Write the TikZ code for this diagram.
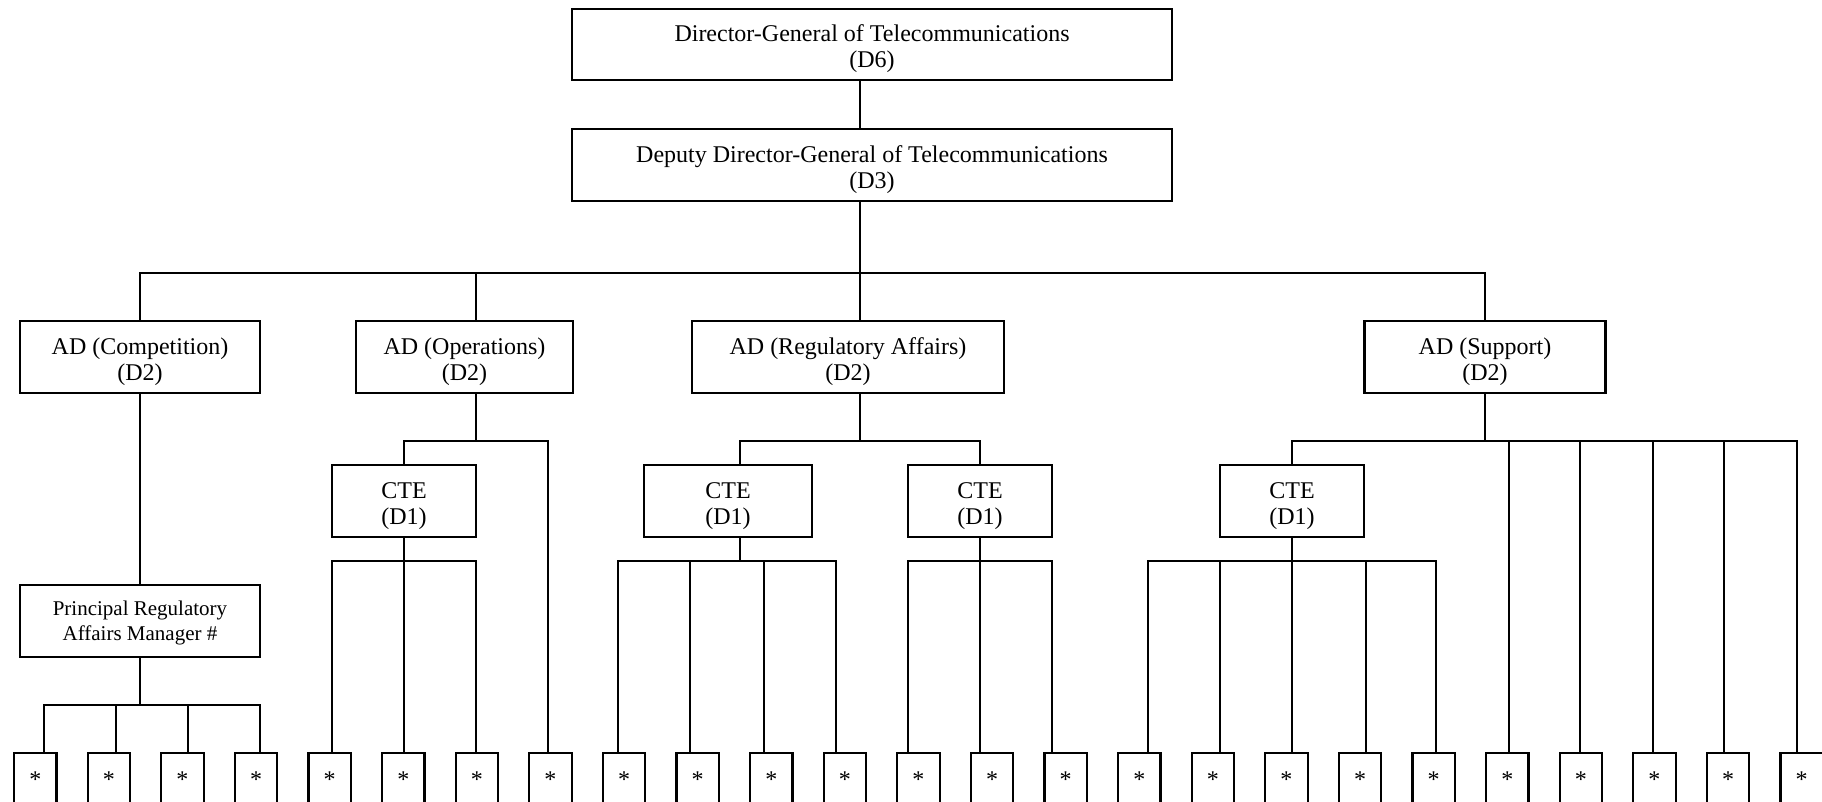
\documentclass[tikz,border=0pt]{standalone}
\usepackage{fontspec}
\setmainfont{Liberation Serif}
\newcommand\myrise{\rule{0pt}{12.9pt}}
\newcommand\myrisep{\rule{0pt}{9.2pt}}
\begin{document}
\begin{tikzpicture}[x=0.5pt,y=-0.5pt,
  box/.style={draw, line width=1.1pt, inner sep=0pt, align=center, minimum height=36pt, font=\fontsize{12}{13}\selectfont},
  conn/.style={line width=0.8pt, line cap=rect},
  starbox/.style={draw, line width=1.1pt, inner sep=0pt, minimum width=21.25pt, text height=17pt, text depth=12pt, font=\fontsize{12}{13.5}\selectfont, anchor=base}]
\useasboundingbox (0,0) rectangle (1822,802);
\clip (0,0) rectangle (1822,802);

\node[box, minimum width=300pt, minimum height=35.5pt] (dg) at (872,44.5) {\myrise Director-General of Telecommunications\\(D6)};
\node[box, minimum width=300pt] (ddg) at (872,165) {\myrise Deputy Director-General of Telecommunications\\(D3)};
\node[box, minimum width=120pt] (adc) at (140,357) {\myrise AD (Competition)\\(D2)};
\node[box, minimum width=108.5pt] (ado) at (464.5,357) {\myrise AD (Operations)\\(D2)};
\node[box, minimum width=156pt] (adr) at (848,357) {\myrise AD (Regulatory Affairs)\\(D2)};
\node[box, minimum width=120.5pt] (ads) at (1485,357) {\myrise AD (Support)\\(D2)};
\node[box, minimum width=72pt] (cteo) at (404,501) {\myrise CTE\\(D1)};
\node[box, minimum width=84pt] (cter1) at (728,501) {\myrise CTE\\(D1)};
\node[box, minimum width=72pt] (cter2) at (980,501) {\myrise CTE\\(D1)};
\node[box, minimum width=72pt] (ctes) at (1292,501) {\myrise CTE\\(D1)};
\node[box, minimum width=120pt, font=\fontsize{10.5}{12.2}\selectfont] (prm) at (140,621) {\myrisep Principal Regulatory\\Affairs Manager \#};

\foreach \i in {1,...,25} \node[starbox] (s\i) at ({35.25+73.6*(\i-1)},787) {*};

\foreach \i/\x/\y in {1/44/705,2/116/705,3/188/705,4/260/705,5/332/561,6/404/561,7/476/561,8/548/441,9/618/561,10/690/561,11/764/561,12/836/561,13/908/561,14/980/561,15/1052/561,16/1148/561,17/1220/561,18/1292/561,19/1366/561,20/1436/561,21/1509/441,22/1580/441,23/1653/441,24/1724/441,25/1797/441}{
  \coordinate (p\i) at (\x,\y);
  \draw[conn] (p\i) -- (p\i |- s\i.north);
}

\coordinate (q1) at (740,0);
\coordinate (q2) at (476,0);
\coordinate (q3) at (860,0);
\coordinate (b1) at (860,273);
\coordinate (r1) at (740,441);
\coordinate (r2) at (980,441);

% top levels
\draw[conn] (q3 |- dg.south) -- (q3 |- ddg.north);
\draw[conn] (q3 |- ddg.south) -- (b1);
\draw[conn] (adc.north |- b1) -- (ads.north |- b1);
\draw[conn] (adc.north |- b1) -- (adc.north);
\draw[conn] (q2 |- b1) -- (q2 |- ado.north);
\draw[conn] (b1) -- (q3 |- adr.north);
\draw[conn] (ads.north |- b1) -- (ads.north);

% competition
\draw[conn] (adc.south) -- (prm.north);
\draw[conn] (prm.south) -- (prm.south |- p1);
\draw[conn] (p1) -- (p4);

% operations
\draw[conn] (q2 |- ado.south) -- (q2 |- p8);
\draw[conn] (cteo.north |- p8) -- (p8);
\draw[conn] (cteo.north |- p8) -- (cteo.north);
\draw[conn] (cteo.south) -- (cteo.south |- p5);
\draw[conn] (p5) -- (p7);

% regulatory affairs
\draw[conn] (q3 |- adr.south) -- (q3 |- r1);
\draw[conn] (r1) -- (r2);
\draw[conn] (r1) -- (r1 |- cter1.north);
\draw[conn] (r2) -- (cter2.north);
\draw[conn] (q1 |- cter1.south) -- (q1 |- p9);
\draw[conn] (p9) -- (p12);
\draw[conn] (cter2.south) -- (cter2.south |- p13);
\draw[conn] (p13) -- (p15);

% support
\draw[conn] (ads.south) -- (ads.south |- p21);
\draw[conn] (ctes.north |- p21) -- (p25);
\draw[conn] (ctes.north |- p21) -- (ctes.north);
\draw[conn] (ctes.south) -- (ctes.south |- p16);
\draw[conn] (p16) -- (p20);
\end{tikzpicture}
\end{document}
